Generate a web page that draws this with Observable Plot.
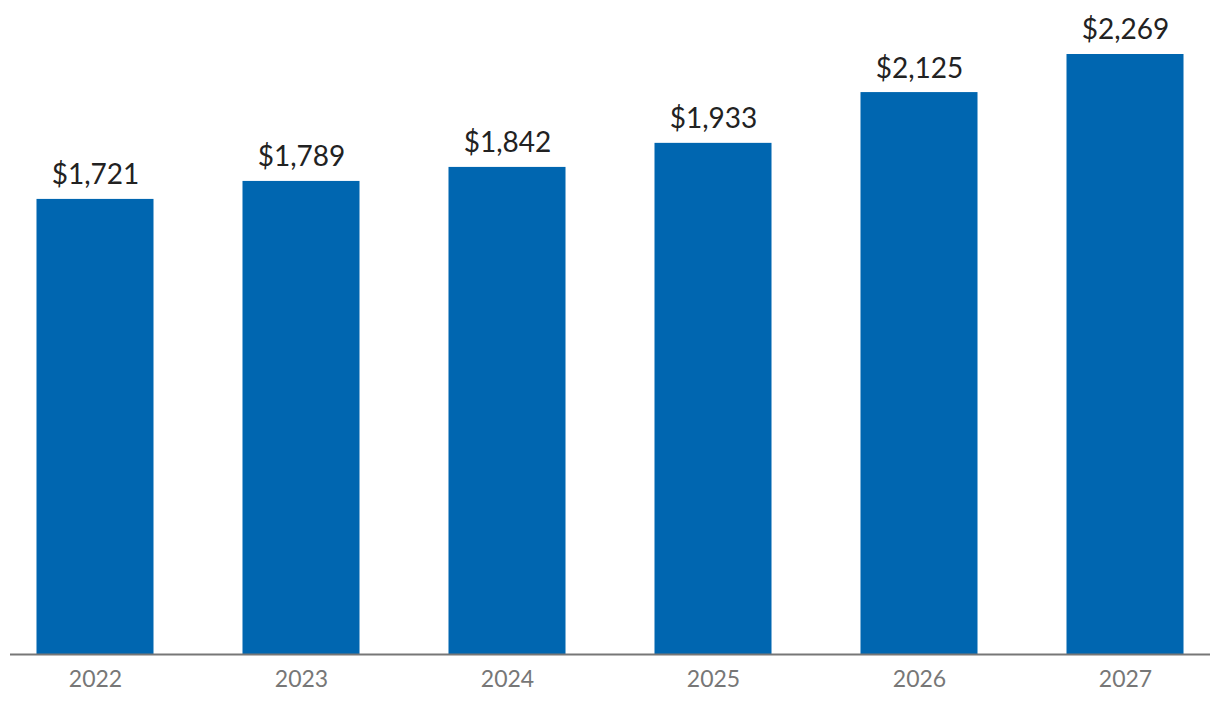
<!DOCTYPE html>
<html>
<head>
<meta charset="utf-8">
<script src="https://cdn.jsdelivr.net/npm/d3@7"></script>
<script src="https://cdn.jsdelivr.net/npm/@observablehq/plot@0.6"></script>
<style>
  html, body { margin: 0; padding: 0; background: #fff; }
  #chart svg { display: block; }
</style>
</head>
<body>
<div id="chart"></div>
<script>
const years = ["2022", "2023", "2024", "2025", "2026", "2027"];
const values = [1721, 1789, 1842, 1933, 2125, 2269];
const data = years.map((year, i) => ({year, value: values[i]}));
const fmt = v => "$" + d3.format(",")(v);

const chart = Plot.plot({
  width: 1220,
  height: 712,
  marginTop: 54,
  marginBottom: 58,
  marginLeft: 10,
  marginRight: 10,
  style: {fontFamily: "Lato, sans-serif", background: "#fff"},
  x: {domain: years, paddingInner: 0.432, paddingOuter: 0.1286, round: false, label: null},
  y: {domain: [0, 2269], axis: null},
  marks: [
    Plot.barY(data, {x: "year", y: "value", fill: "#0066B0"}),
    Plot.ruleY([0], {stroke: "#777", strokeWidth: 2}),
    Plot.text(data, {x: "year", y: "value", text: d => fmt(d.value), dy: -24, fontSize: 28, fill: "#222", lineAnchor: "middle"}),
    Plot.axisX({tickSize: 0, tickPadding: 16, fontSize: 23, color: "#777", label: null})
  ]
});
document.getElementById("chart").appendChild(chart);
</script>
</body>
</html>
